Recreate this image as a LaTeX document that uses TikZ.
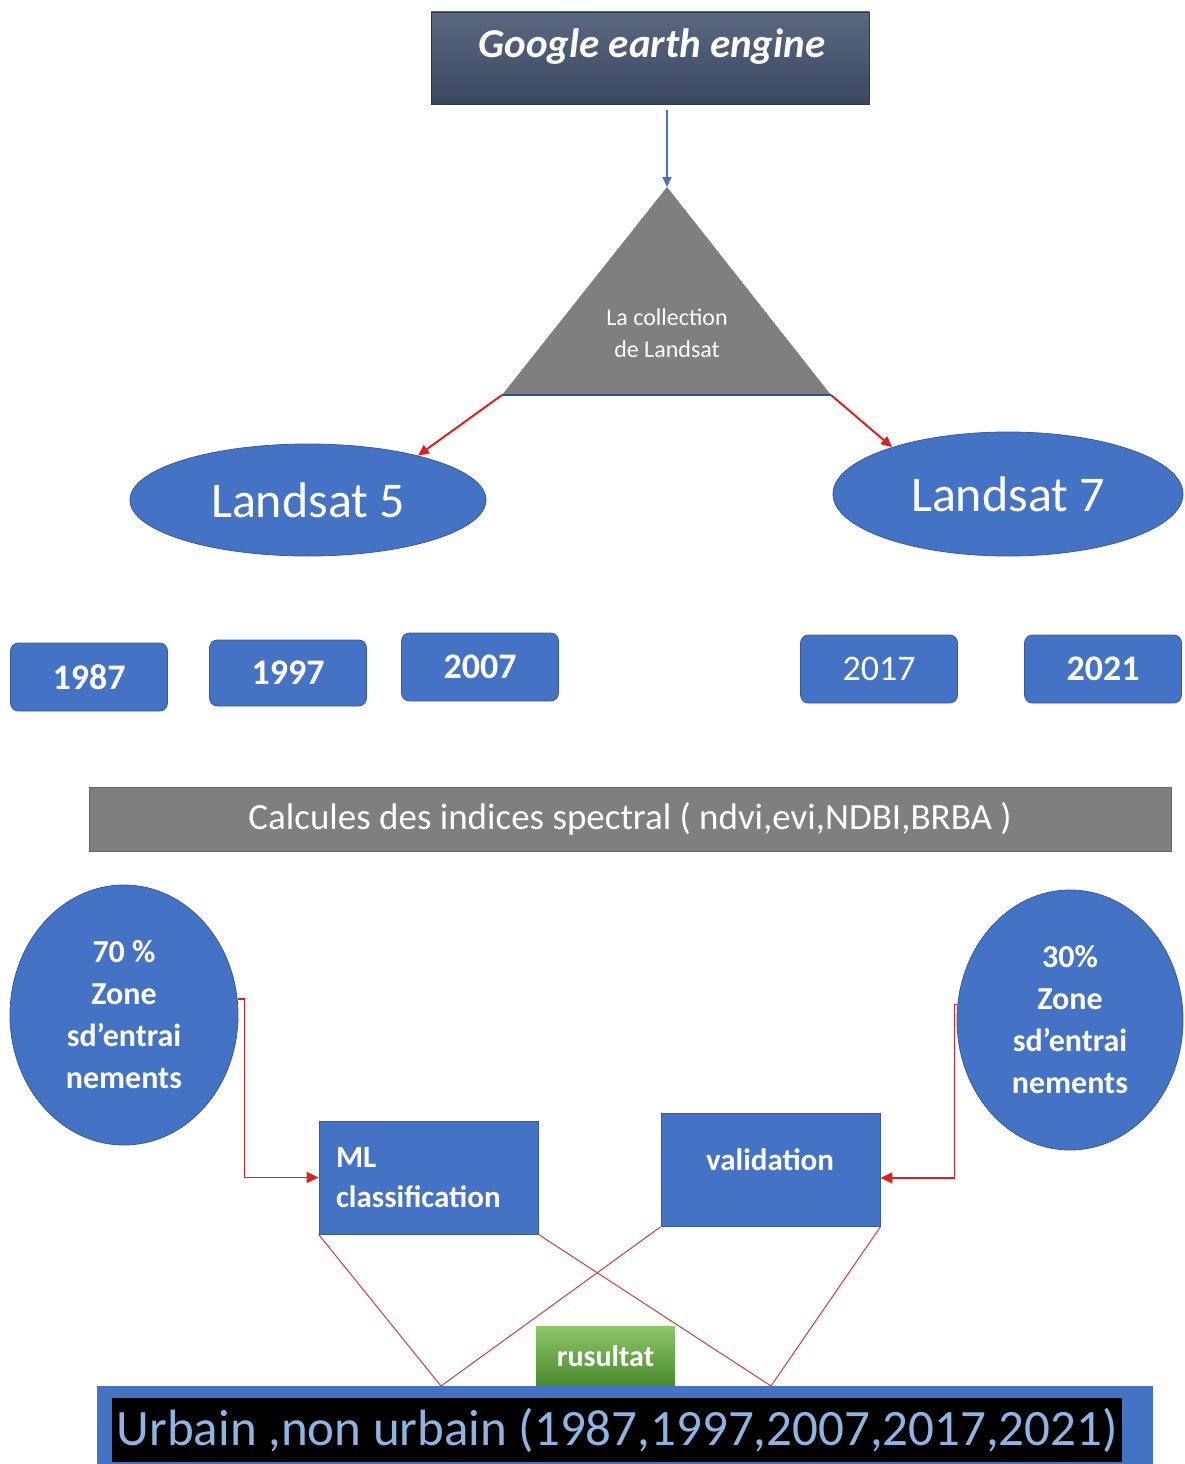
\documentclass[tikz,border=0pt]{standalone}
\usepackage{fontspec}
\usepackage{graphicx}
\setmainfont{Carlito}
\usetikzlibrary{shapes.geometric,arrows.meta}
\definecolor{mblue}{HTML}{4472C4}
\definecolor{mgray}{HTML}{7F7F7F}
\definecolor{slatetop}{HTML}{5A6882}
\definecolor{slatebot}{HTML}{3A4760}
\definecolor{mred}{HTML}{E02020}
\definecolor{lred}{HTML}{D23A3A}
\definecolor{gtop}{HTML}{8CC56A}
\definecolor{gbot}{HTML}{4A8A2C}
\definecolor{urbtext}{HTML}{8DB4E2}
\newcommand{\fs}[2]{\fontsize{#1}{#2}\selectfont}
\begin{document}
\begin{tikzpicture}[x=1pt,y=-1pt,
  yearbox/.style={fill=mblue, draw=mblue!80!black, line width=0.8pt, rounded corners=8pt,
    minimum width=157pt, minimum height=68pt, text=white, font=\fs{36}{40}, inner sep=0pt},
  landsat/.style={ellipse, fill=mblue, draw=mblue!80!black, line width=0.8pt, text=white, font=\fs{50}{56}, inner sep=0pt},
  zone/.style={ellipse, fill=mblue, draw=mblue!80!black, line width=0.8pt, text=white, font=\bfseries\fs{32}{42},
    align=center, inner sep=0pt, minimum width=228pt, minimum height=260pt},
  procbox/.style={rectangle, fill=mblue, draw=mblue!80!black, line width=0.8pt, text=white, font=\bfseries\fs{31}{40},
    minimum width=219pt, minimum height=113pt, inner sep=0pt},
  redarrow/.style={draw=mred, line width=2pt, -{Triangle[length=11pt,width=10pt]}},
  elbow/.style={draw=mred, line width=1.6pt, -{Triangle[length=12pt,width=11pt]}},
  thinred/.style={draw=lred, line width=1pt}]
\useasboundingbox (0,0) rectangle (1184,1464);

% top box
\node[rectangle, top color=slatetop, bottom color=slatebot, draw=slatebot!80!black, line width=0.6pt,
  minimum width=438pt, minimum height=92pt, inner sep=0pt] (gee) at (650,58) {};
\node[text=white, font=\bfseries\itshape\fs{41}{48}, inner sep=0pt] (geet) at (652,47) {Google earth engine};

% triangle
\coordinate (apex) at (667,187);
\coordinate (tbl) at (502,395);
\coordinate (tbr) at (831,395);
\fill[mgray] (apex) -- (tbl) -- (tbr) -- cycle;
\draw[mblue!70!black, line width=1.2pt] (tbl) -- (tbr);
\node[text=white, font=\fs{24}{32}, align=center, inner sep=0pt] (coll) at (667,333) {La collection\\de Landsat};

\draw[draw=mblue, line width=1.8pt, -{Triangle[length=10pt,width=9pt]}, shorten <=6pt] (gee.south -| apex) -- (apex);

% Landsat ellipses
\node[landsat, minimum width=356pt, minimum height=112pt] (l5) at (308,500) {Landsat 5};
\node[landsat, minimum width=350pt, minimum height=124pt] (l7) at (1008,494) {Landsat 7};
\draw[redarrow] (tbl) -- (l5.22);
\draw[redarrow] (tbr) -- (l7.158);

% years
\node[yearbox, font=\bfseries\fs{36}{40}] (y87) at (89,677) {1987};
\node[yearbox, font=\bfseries\fs{36}{40}, minimum height=66pt] (y97) at (288,673) {1997};
\node[yearbox, font=\bfseries\fs{36}{40}] (y07) at (480,667) {2007};
\node[yearbox] (y17) at (879,669) {2017};
\node[yearbox, font=\bfseries\fs{36}{40}] (y21) at (1103,669) {2021};

% spectral bar
\node[rectangle, fill=mgray, draw=mgray!80!black, line width=0.6pt, minimum width=1082pt, minimum height=64pt,
  inner sep=0pt, text=white, font=\fs{37}{40}] (spec) at (630,819) {Calcules des indices spectral ( ndvi,evi,NDBI,BRBA )};

% zones
\node[zone] (z70) at (124,1015) {70 \%\\Zone\\sd’entrai\\nements};
\node[zone, minimum width=226pt] (z30) at (1070,1020) {30\%\\Zone\\sd’entrai\\nements};

% process boxes
\node[procbox, align=left, text width=185pt] (ml) at (428.5,1177.5) {ML\\classification};
\node[procbox, align=center, anchor=north] (val) at (770.5,1113) {};
\node[text=white, font=\bfseries\fs{31}{40}, inner sep=0pt] (valt) at (770,1160) {validation};

\draw[elbow] (z70.8) -- ++(7,0) |- (ml.west);
\draw[elbow, line width=1.2pt] (z30.172) -- ++(-3,0) |- ([yshift=-8pt]val.east);

% bottom result
\node[rectangle, fill=mblue, minimum width=1056pt, minimum height=90pt, inner sep=0pt, anchor=north west] (outer) at (97,1386) {};
\node[rectangle, fill=black, minimum width=1010pt, minimum height=64pt, inner sep=0pt, anchor=north west,
  text=urbtext, font=\fs{51}{56}] (urb) at (112,1398) {Urbain ,non urbain (1987,1997,2007,2017,2021)};
\coordinate (r1) at (441,1386);
\coordinate (r2) at (771,1386);

\draw[thinred] (ml.south west) -- (r1);
\draw[thinred] (ml.south east) -- (r2);
\draw[thinred] (val.south west) -- (r1);
\draw[thinred] (val.south east) -- (r2);

\node[rectangle, top color=gtop, bottom color=gbot, minimum width=139pt, minimum height=59pt, inner sep=0pt,
  anchor=south, text=white, font=\bfseries\fs{30}{34}] (res) at (605.5,1386) {rusultat};
\end{tikzpicture}
\end{document}
